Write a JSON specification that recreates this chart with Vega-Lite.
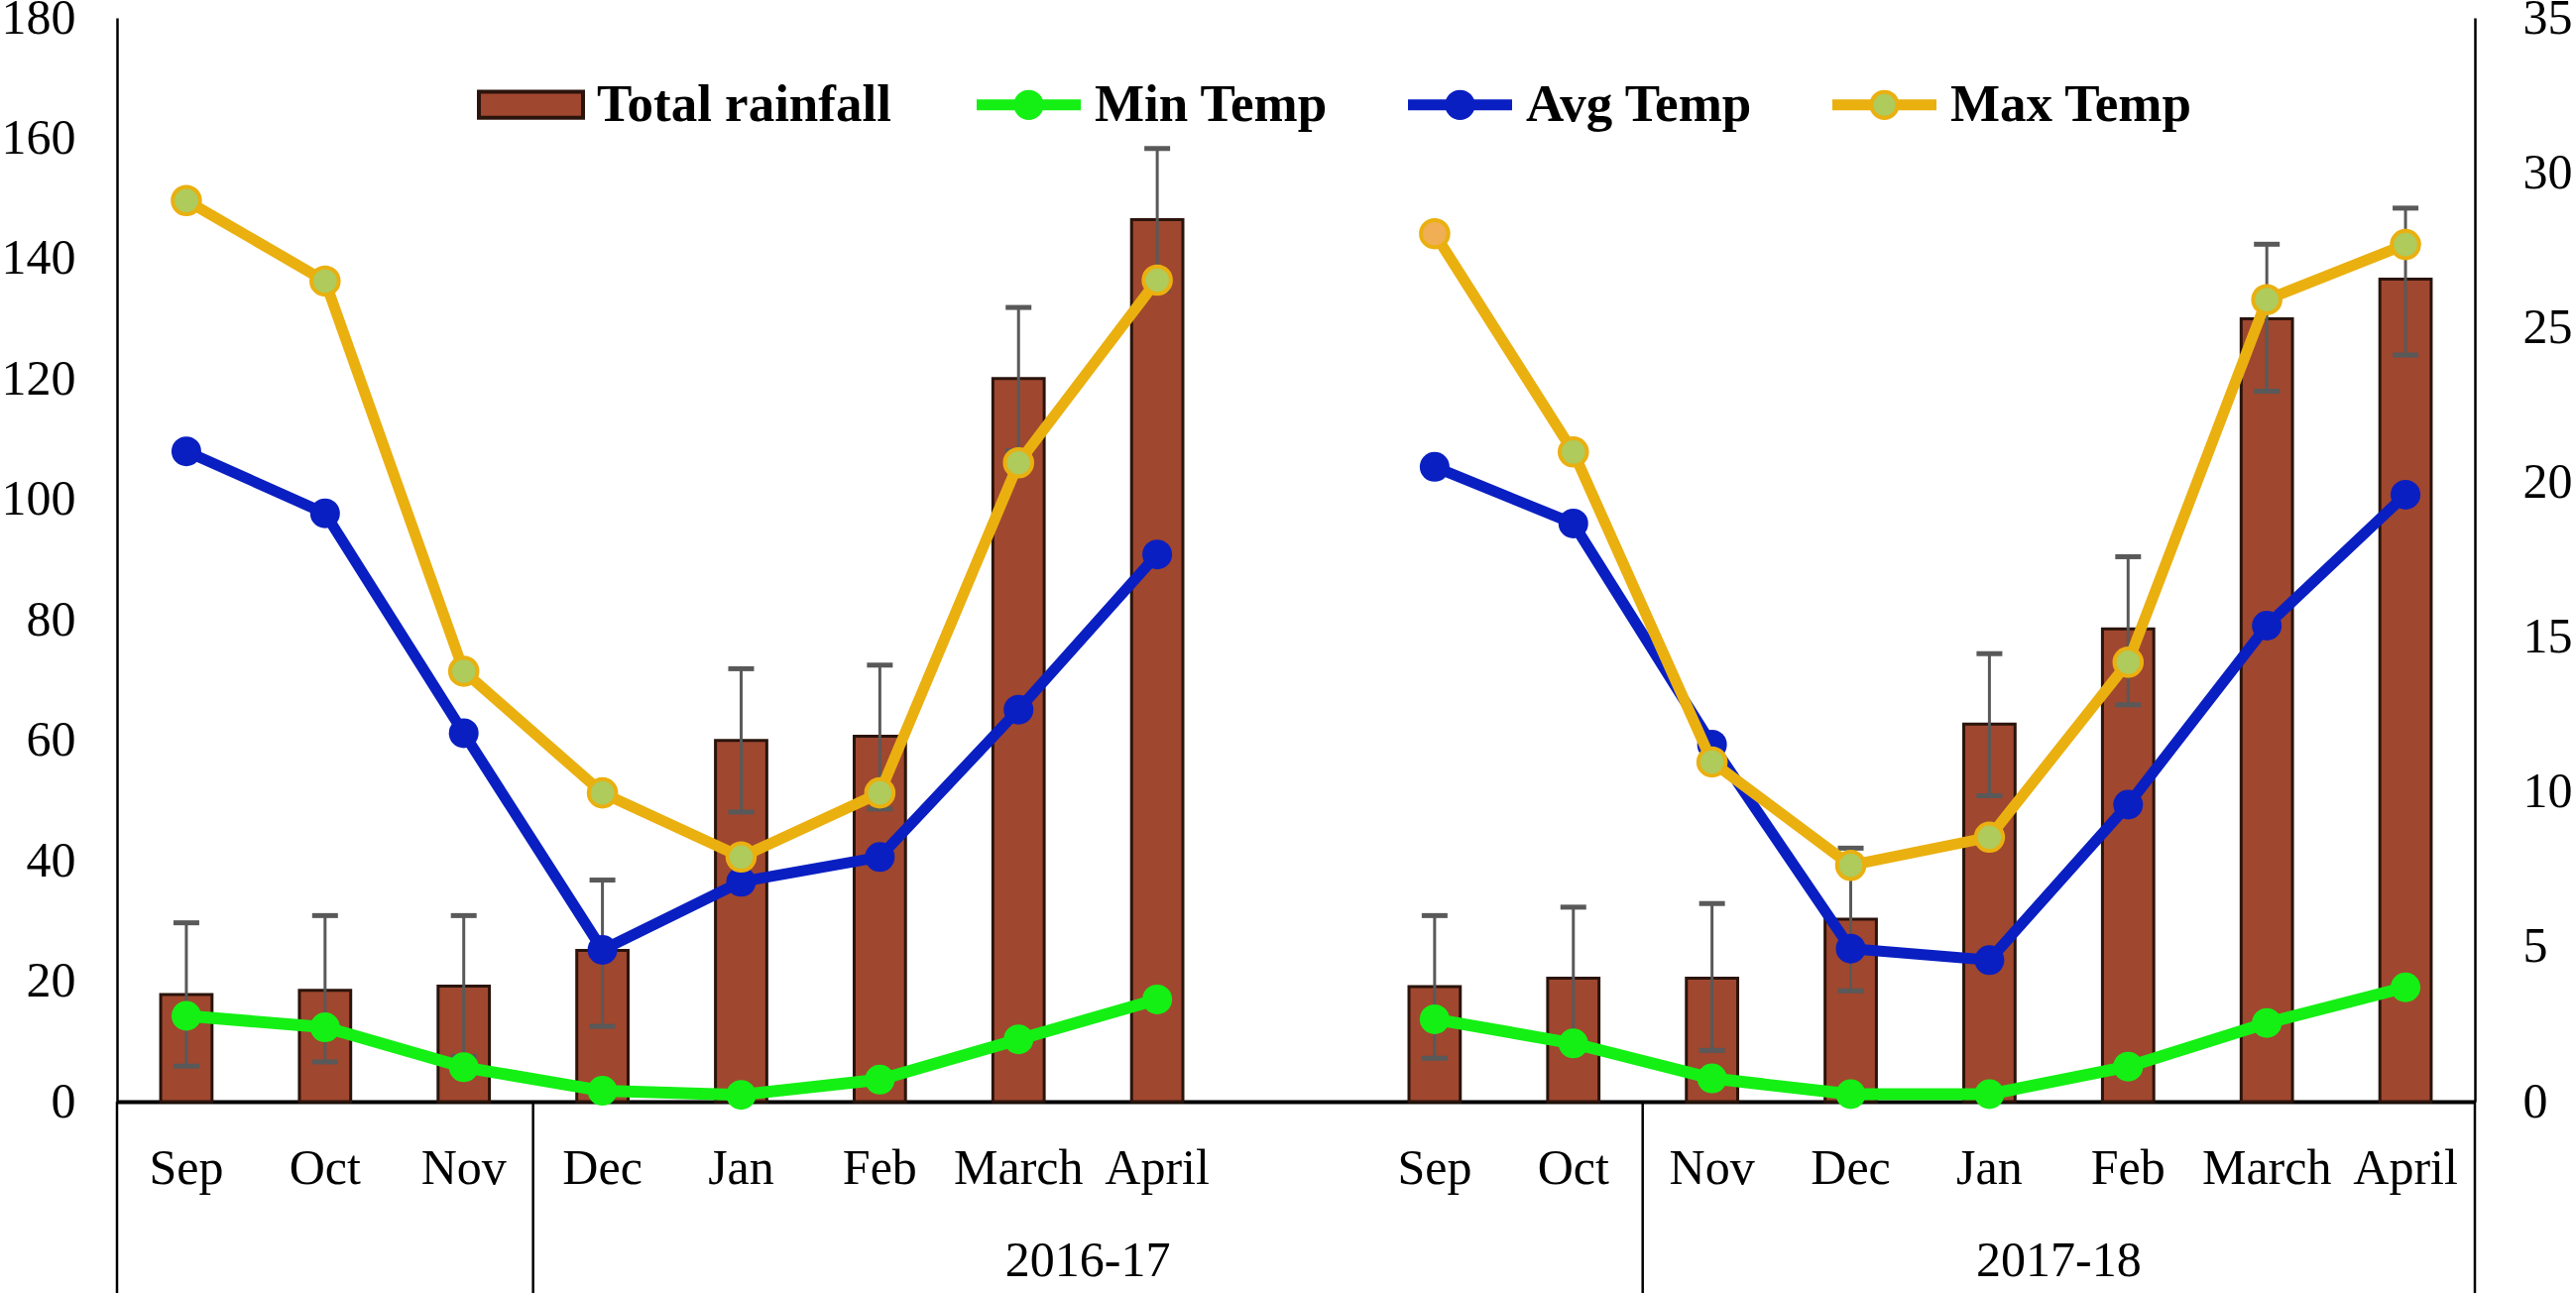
{
  "$schema": "https://vega.github.io/schema/vega-lite/v6.json",
  "description": "Monthly total rainfall (bars, left axis) with min, avg and max temperature (lines, right axis), 2016-17 and 2017-18.",
  "width": 2378,
  "height": 1093,
  "autosize": {"type": "none"},
  "padding": {"left": 118, "top": 18, "right": 102, "bottom": 193},
  "background": "white",
  "config": {
    "view": {"stroke": null},
    "font": "Liberation Serif",
    "axis": {
      "labelFont": "Liberation Serif",
      "labelFontSize": 50,
      "labelColor": "black",
      "grid": false,
      "ticks": false,
      "title": null,
      "domainColor": "black"
    },
    "legend": {
      "orient": "none",
      "direction": "horizontal",
      "title": null,
      "padding": 0,
      "labelFont": "Liberation Serif",
      "labelFontWeight": "bold",
      "labelFontSize": 53,
      "labelColor": "black",
      "labelLimit": 600,
      "labelOffset": 12,
      "columnPadding": 72,
      "symbolSize": 11025,
      "symbolOpacity": 1
    }
  },
  "data": {
    "values": [
      {"slot": "Sep|1", "season": "2016-17", "rain": 17.8, "lo": 5.9, "hi": 29.7, "tmin": 2.77, "tavg": 21.0, "tmax": 29.1},
      {"slot": "Oct|1", "season": "2016-17", "rain": 18.5, "lo": 6.6, "hi": 30.9, "tmin": 2.4, "tavg": 19.0, "tmax": 26.5},
      {"slot": "Nov|1", "season": "2016-17", "rain": 19.2, "lo": 7.5, "hi": 30.9, "tmin": 1.11, "tavg": 11.9, "tmax": 13.9},
      {"slot": "Dec|1", "season": "2016-17", "rain": 25.1, "lo": 12.5, "hi": 36.8, "tmin": 0.35, "tavg": 4.9, "tmax": 9.97},
      {"slot": "Jan|1", "season": "2016-17", "rain": 60.0, "lo": 48.1, "hi": 71.9, "tmin": 0.22, "tavg": 7.1, "tmax": 7.9},
      {"slot": "Feb|1", "season": "2016-17", "rain": 60.7, "lo": 48.6, "hi": 72.5, "tmin": 0.71, "tavg": 7.9, "tmax": 9.97},
      {"slot": "March|1", "season": "2016-17", "rain": 120.1, "lo": 108.1, "hi": 131.9, "tmin": 2.01, "tavg": 12.66, "tmax": 20.63},
      {"slot": "April|1", "season": "2016-17", "rain": 146.5, "lo": 134.7, "hi": 158.3, "tmin": 3.3, "tavg": 17.67, "tmax": 26.53},
      {"slot": "Sep|2", "season": "2017-18", "rain": 19.1, "lo": 7.2, "hi": 30.9, "tmin": 2.66, "tavg": 20.5, "tmax": 28.03},
      {"slot": "Oct|2", "season": "2017-18", "rain": 20.5, "lo": 8.7, "hi": 32.3, "tmin": 1.88, "tavg": 18.67, "tmax": 20.98},
      {"slot": "Nov|2", "season": "2017-18", "rain": 20.5, "lo": 8.5, "hi": 32.9, "tmin": 0.75, "tavg": 11.53, "tmax": 10.97},
      {"slot": "Dec|2", "season": "2017-18", "rain": 30.3, "lo": 18.4, "hi": 42.1, "tmin": 0.24, "tavg": 4.94, "tmax": 7.63},
      {"slot": "Jan|2", "season": "2017-18", "rain": 62.7, "lo": 50.8, "hi": 74.4, "tmin": 0.24, "tavg": 4.57, "tmax": 8.54},
      {"slot": "Feb|2", "season": "2017-18", "rain": 78.5, "lo": 65.9, "hi": 90.5, "tmin": 1.13, "tavg": 9.59, "tmax": 14.19},
      {"slot": "March|2", "season": "2017-18", "rain": 130.0, "lo": 118.0, "hi": 142.4, "tmin": 2.54, "tavg": 15.37, "tmax": 25.9},
      {"slot": "April|2", "season": "2017-18", "rain": 136.6, "lo": 124.0, "hi": 148.4, "tmin": 3.69, "tavg": 19.6, "tmax": 27.68}
    ]
  },
  "encoding": {
    "x": {
      "field": "slot",
      "type": "nominal",
      "sort": null,
      "scale": {
        "domain": ["Sep|1", "Oct|1", "Nov|1", "Dec|1", "Jan|1", "Feb|1", "March|1", "April|1", "gap", "Sep|2", "Oct|2", "Nov|2", "Dec|2", "Jan|2", "Feb|2", "March|2", "April|2"],
        "paddingInner": 0,
        "paddingOuter": 0
      },
      "axis": {
        "labelExpr": "datum.value == 'gap' ? '' : split(datum.value, '|')[0]",
        "labelAngle": 0,
        "labelOverlap": false,
        "labelFlush": false,
        "labelPadding": 42,
        "domainWidth": 4
      }
    }
  },
  "layer": [
    {
      "layer": [
        {
          "mark": {"type": "bar", "width": {"band": 0.37}, "stroke": "#2A140C", "strokeWidth": 3},
          "encoding": {
            "y": {
              "field": "rain",
              "type": "quantitative",
              "scale": {"domain": [0, 180], "nice": false},
              "axis": {"values": [0, 20, 40, 60, 80, 100, 120, 140, 160, 180], "domainWidth": 2.5, "labelPadding": 42}
            },
            "color": {
              "datum": "Total rainfall",
              "type": "nominal",
              "scale": {"domain": ["Total rainfall"], "range": ["#A0472F"]},
              "legend": {
                "legendX": 363,
                "legendY": 33,
                "symbolType": "M-1,-0.25H1V0.25H-1Z",
                "symbolStrokeColor": "#2A140C",
                "symbolStrokeWidth": 4
              }
            }
          }
        },
        {
          "mark": {"type": "rule", "color": "#595959", "strokeWidth": 3},
          "encoding": {
            "y": {"field": "lo", "type": "quantitative"},
            "y2": {"field": "hi"}
          }
        },
        {
          "mark": {"type": "tick", "color": "#595959", "thickness": 5, "size": 26, "opacity": 1},
          "encoding": {"y": {"field": "lo", "type": "quantitative"}}
        },
        {
          "mark": {"type": "tick", "color": "#595959", "thickness": 5, "size": 26, "opacity": 1},
          "encoding": {"y": {"field": "hi", "type": "quantitative"}}
        },
        {
          "data": {"values": [{"slot": "Sep|1"}, {"slot": "Dec|1"}, {"slot": "Nov|2"}]},
          "mark": {"type": "rule", "color": "black", "strokeWidth": 2.5},
          "encoding": {
            "x": {
              "field": "slot",
              "type": "nominal",
              "bandPosition": 0,
              "scale": {
                "domain": ["Sep|1", "Oct|1", "Nov|1", "Dec|1", "Jan|1", "Feb|1", "March|1", "April|1", "gap", "Sep|2", "Oct|2", "Nov|2", "Dec|2", "Jan|2", "Feb|2", "March|2", "April|2"],
                "paddingInner": 0,
                "paddingOuter": 0
              }
            },
            "y": {"datum": 0, "type": "quantitative"},
            "y2": {"datum": -32}
          }
        },
        {
          "data": {"values": [{"slot": "April|2"}]},
          "mark": {"type": "rule", "color": "black", "strokeWidth": 2.5},
          "encoding": {
            "x": {
              "field": "slot",
              "type": "nominal",
              "bandPosition": 1,
              "scale": {
                "domain": ["Sep|1", "Oct|1", "Nov|1", "Dec|1", "Jan|1", "Feb|1", "March|1", "April|1", "gap", "Sep|2", "Oct|2", "Nov|2", "Dec|2", "Jan|2", "Feb|2", "March|2", "April|2"],
                "paddingInner": 0,
                "paddingOuter": 0
              }
            },
            "y": {"datum": 0, "type": "quantitative"},
            "y2": {"datum": -32}
          }
        },
        {
          "data": {"values": [{"slot": "April|1", "label": "2016-17"}, {"slot": "Feb|2", "label": "2017-18"}]},
          "mark": {"type": "text", "font": "Liberation Serif", "fontSize": 50, "color": "black", "align": "center", "baseline": "alphabetic"},
          "encoding": {
            "x": {
              "field": "slot",
              "type": "nominal",
              "bandPosition": 0,
              "scale": {
                "domain": ["Sep|1", "Oct|1", "Nov|1", "Dec|1", "Jan|1", "Feb|1", "March|1", "April|1", "gap", "Sep|2", "Oct|2", "Nov|2", "Dec|2", "Jan|2", "Feb|2", "March|2", "April|2"],
                "paddingInner": 0,
                "paddingOuter": 0
              }
            },
            "y": {"datum": -29, "type": "quantitative"},
            "text": {"field": "label"}
          }
        }
      ]
    },
    {
      "layer": [
        {
          "mark": {"type": "line", "strokeWidth": 12, "strokeJoin": "round", "strokeCap": "round"},
          "encoding": {
            "y": {
              "field": "tmin",
              "type": "quantitative",
              "scale": {"domain": [0, 35], "nice": false},
              "axis": {"orient": "right", "values": [0, 5, 10, 15, 20, 25, 30, 35], "domainWidth": 2.5, "labelPadding": 48}
            },
            "detail": {"field": "season"},
            "stroke": {
              "datum": "Min Temp",
              "type": "nominal",
              "scale": {"domain": ["Min Temp", "Avg Temp", "Max Temp"], "range": ["#14F014", "#0A1FC2", "#EAB010"]},
              "legend": {
                "legendX": 865,
                "legendY": 33,
                "symbolType": "M-1,-0.065H-0.25M0.25,-0.065H1M-1,0H-0.25M0.25,0H1M-1,0.065H-0.25M0.25,0.065H1M0.25,0A0.25,0.25 0 1 1 -0.25,0A0.25,0.25 0 1 1 0.25,0Z",
                "symbolStrokeWidth": 4
              }
            }
          }
        },
        {
          "mark": {"type": "point", "filled": true, "size": 900, "opacity": 1},
          "encoding": {
            "y": {"field": "tmin", "type": "quantitative"},
            "fill": {
              "datum": "Min Temp",
              "type": "nominal",
              "scale": {"domain": ["Min Temp", "Avg Temp", "Max Temp"], "range": ["#14F014", "#0A1FC2", "#AECB5C"]},
              "legend": {
                "legendX": 865,
                "legendY": 33,
                "symbolType": "M-1,-0.065H-0.25M0.25,-0.065H1M-1,0H-0.25M0.25,0H1M-1,0.065H-0.25M0.25,0.065H1M0.25,0A0.25,0.25 0 1 1 -0.25,0A0.25,0.25 0 1 1 0.25,0Z",
                "symbolStrokeWidth": 4
              }
            }
          }
        },
        {
          "mark": {"type": "line", "strokeWidth": 11, "strokeJoin": "round", "strokeCap": "round"},
          "encoding": {
            "y": {"field": "tavg", "type": "quantitative"},
            "detail": {"field": "season"},
            "stroke": {"datum": "Avg Temp", "type": "nominal"}
          }
        },
        {
          "mark": {"type": "point", "filled": true, "size": 900, "opacity": 1},
          "encoding": {
            "y": {"field": "tavg", "type": "quantitative"},
            "fill": {"datum": "Avg Temp", "type": "nominal"}
          }
        },
        {
          "mark": {"type": "line", "strokeWidth": 11, "strokeJoin": "round", "strokeCap": "round"},
          "encoding": {
            "y": {"field": "tmax", "type": "quantitative"},
            "detail": {"field": "season"},
            "stroke": {"datum": "Max Temp", "type": "nominal"}
          }
        },
        {
          "mark": {"type": "point", "filled": true, "size": 760, "stroke": "#EAB010", "strokeWidth": 4, "opacity": 1},
          "encoding": {
            "y": {"field": "tmax", "type": "quantitative"},
            "fill": {
              "datum": "Max Temp",
              "type": "nominal",
              "condition": {"test": "datum.slot === 'Sep|2'", "value": "#F0AE55"}
            }
          }
        }
      ]
    }
  ],
  "resolve": {"scale": {"y": "independent"}}
}
